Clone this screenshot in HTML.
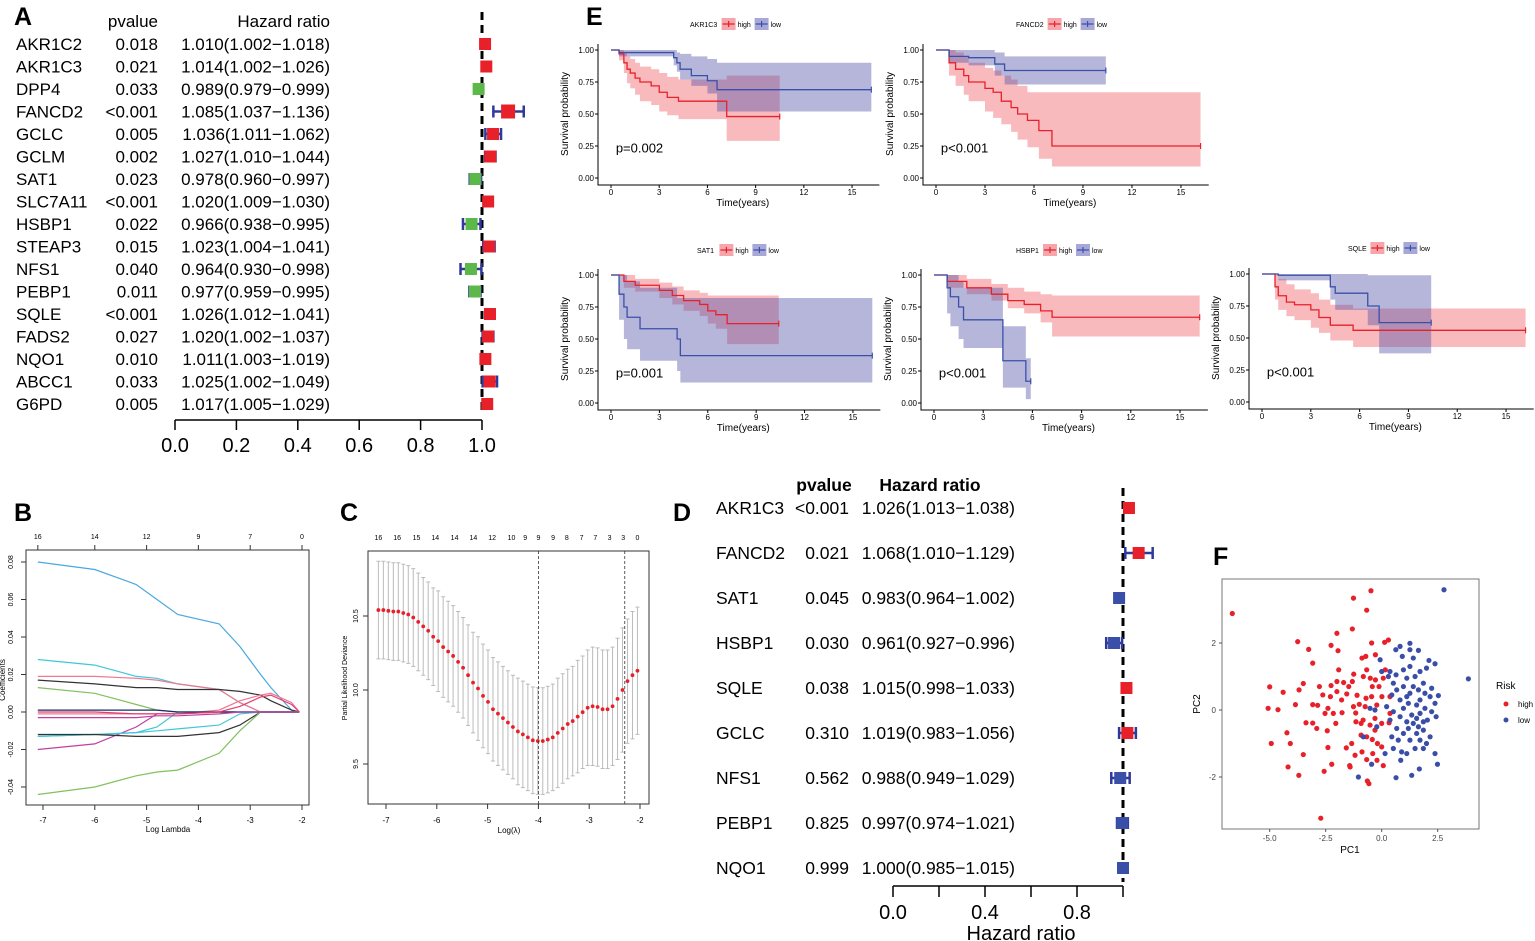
<!DOCTYPE html>
<html><head><meta charset="utf-8">
<style>
html,body{margin:0;padding:0;background:#fff;}
svg{display:block;font-family:"Liberation Sans",Arial,sans-serif;}
</style></head>
<body>
<svg id="fig" width="1535" height="941" viewBox="0 0 1535 941" xmlns="http://www.w3.org/2000/svg">
<g id="gA"></g>
<g id="gB"></g>
<g id="gC"></g>
<g id="gD"></g>
<g id="gE"></g>
<g id="gF"></g>
</svg>
<script>
// ---------- Panel A data ----------
const aGenes=["AKR1C2","AKR1C3","DPP4","FANCD2","GCLC","GCLM","SAT1","SLC7A11","HSBP1","STEAP3","NFS1","PEBP1","SQLE","FADS2","NQO1","ABCC1","G6PD"];
const aPvals=["0.018","0.021","0.033","<0.001","0.005","0.002","0.023","<0.001","0.022","0.015","0.040","0.011","<0.001","0.027","0.010","0.033","0.005"];
const aHR=[1.010,1.014,0.989,1.085,1.036,1.027,0.978,1.020,0.966,1.023,0.964,0.977,1.026,1.020,1.011,1.025,1.017];
const aLow=[1.002,1.002,0.979,1.037,1.011,1.010,0.960,1.009,0.938,1.004,0.930,0.959,1.012,1.002,1.003,1.002,1.005];
const aHigh=[1.018,1.026,0.999,1.136,1.062,1.044,0.997,1.030,0.995,1.041,0.998,0.995,1.041,1.037,1.019,1.049,1.029];
const aTicks=[0,0.2,0.4,0.6,0.8,1.0];
// ---------- Panel D data ----------
const dGenes=["AKR1C3","FANCD2","SAT1","HSBP1","SQLE","GCLC","NFS1","PEBP1","NQO1"];
const dPvals=["<0.001","0.021","0.045","0.030","0.038","0.310","0.562","0.825","0.999"];
const dHR=[1.026,1.068,0.983,0.961,1.015,1.019,0.988,0.997,1.000];
const dLow=[1.013,1.010,0.964,0.927,0.998,0.983,0.949,0.974,0.985];
const dHigh=[1.038,1.129,1.002,0.996,1.033,1.056,1.029,1.021,1.015];
const dTicks=[0,0.2,0.4,0.6,0.8,1.0];
const dTickLabels=["0.0","","0.4","","0.8",""];
// ---------- Panel B data ----------
const bLambda=[-7.1,-6,-5.2,-4.8,-4.4,-3.6,-3.2,-2.8,-2.6,-2.2,-2.05];
const bS1=[0.080,0.076,0.068,0.060,0.052,0.047,0.035,0.020,0.013,0.001,0];
const bS2=[0.028,0.025,0.019,0.018,0.015,0.012,0.005,0,0,0,0];
const bS3=[0.019,0.019,0.018,0.017,0.015,0.012,0.005,0,0,0,0];
const bS4=[0.017,0.015,0.013,0.013,0.012,0.012,0.011,0.009,0.006,0.001,0];
const bS5=[0.013,0.010,0.004,0.001,0,0,0,0,0,0,0];
const bS6=[-0.001,-0.001,-0.001,-0.001,-0.001,0.001,0.006,0.009,0.010,0.005,0];
const bS7=[-0.020,-0.017,-0.008,-0.001,-0.001,0,0,0,0,0,0];
const bS8=[-0.013,-0.012,-0.011,-0.008,0,0,0,0,0,0,0];
const bS9=[-0.013,-0.012,-0.011,-0.010,-0.009,-0.007,-0.001,0,0,0,0];
const bS10=[-0.012,-0.012,-0.013,-0.013,-0.013,-0.011,-0.007,0,0,0,0];
const bS11=[-0.044,-0.040,-0.034,-0.032,-0.031,-0.022,-0.010,0,0,0,0];
const bS12=[0.001,0.001,0.001,0.001,0,0,0,0,0,0,0];
const bS13=[-0.003,-0.003,-0.003,-0.002,-0.002,-0.001,0,0,0,0,0];
const bS14=[0.0,0.0,-0.001,-0.001,-0.001,0,0.003,0.008,0.009,0.004,0];
const bTopLambda=[-7.1,-6,-5,-4,-3,-2];
const bTopLabels=["16","14","12","9","7","0"];
const bXTicks=[-7,-6,-5,-4,-3,-2];
const bYTicks=[0.08,0.06,0.04,0.02,0.00,-0.02,-0.04];
// ---------- Panel C data ----------
const cMean=[10.54,10.54,10.535,10.53,10.53,10.52,10.51,10.49,10.46,10.43,10.40,10.36,10.33,10.29,10.26,10.23,10.19,10.15,10.10,10.05,10.01,9.96,9.92,9.87,9.84,9.81,9.78,9.75,9.72,9.70,9.68,9.66,9.655,9.655,9.665,9.68,9.71,9.74,9.77,9.79,9.82,9.85,9.88,9.89,9.885,9.87,9.87,9.89,9.94,10.00,10.06,10.10,10.13];
const cSE=[0.33,0.33,0.33,0.33,0.33,0.33,0.33,0.33,0.33,0.33,0.33,0.33,0.34,0.34,0.34,0.34,0.34,0.34,0.34,0.34,0.35,0.35,0.35,0.35,0.35,0.35,0.35,0.35,0.36,0.36,0.36,0.36,0.36,0.36,0.36,0.36,0.37,0.37,0.37,0.37,0.38,0.38,0.39,0.40,0.40,0.40,0.40,0.40,0.41,0.42,0.42,0.43,0.43];
const cLambdaStart=-7.15, cLambdaEnd=-2.05;
const cTopLambda=[-7.15,-6.78,-6.4,-6.03,-5.65,-5.28,-4.91,-4.53,-4.26,-4.0,-3.71,-3.44,-3.15,-2.88,-2.6,-2.33,-2.05];
const cTopLabels=["16","16","15","14","14","14","12","10","9","9","9","8","7","7","3","3","0"];
const cXTicks=[-7,-6,-5,-4,-3,-2];
const cYTicks=[9.5,10.0,10.5];
const cVLines=[-4.0,-2.3];
// ---------- Panel E data (Kaplan-Meier) ----------
const eTicksX=[0,3,6,9,12,15];
const eTicksY=[0,0.25,0.5,0.75,1.0];
const km1HighT=[0,0.5,0.8,1.0,1.2,1.5,1.8,2.5,3.0,3.5,4.2,7.2], km1HighS=[1,0.97,0.90,0.85,0.82,0.78,0.75,0.72,0.67,0.63,0.60,0.48];
const km1HighLo=[1,0.92,0.82,0.74,0.70,0.65,0.60,0.57,0.52,0.49,0.46,0.29], km1HighHi=[1,1,0.98,0.95,0.93,0.90,0.87,0.85,0.82,0.79,0.77,0.80], km1HighEnd=10.5;
const km1LowT=[0,0.5,3.9,4.1,4.3,5.0,6.0,6.6], km1LowS=[1,0.98,0.94,0.90,0.85,0.80,0.76,0.69];
const km1LowLo=[1,0.95,0.88,0.83,0.77,0.72,0.66,0.52], km1LowHi=[1,1,1,0.98,0.97,0.95,0.93,0.90], km1LowEnd=16.2;
const km2HighT=[0,0.8,1.2,1.7,2.0,3.0,3.5,4.0,4.6,5.0,5.6,6.3,7.1], km2HighS=[1,0.90,0.85,0.80,0.75,0.70,0.67,0.60,0.55,0.50,0.45,0.37,0.25];
const km2HighLo=[1,0.80,0.72,0.65,0.60,0.52,0.47,0.42,0.36,0.30,0.24,0.15,0.09], km2HighHi=[1,1,0.98,0.95,0.90,0.86,0.84,0.80,0.77,0.72,0.67,0.67,0.67], km2HighEnd=16.2;
const km2LowT=[0,0.8,2.0,3.6,4.2], km2LowS=[1,0.95,0.94,0.89,0.84];
const km2LowLo=[1,0.90,0.88,0.80,0.73], km2LowHi=[1,1,1,0.98,0.95], km2LowEnd=10.4;
const km3HighT=[0,0.8,1.5,3.0,3.8,4.5,5.5,6.0,6.5,7.2], km3HighS=[1,0.95,0.92,0.88,0.84,0.80,0.77,0.72,0.69,0.62];
const km3HighLo=[1,0.90,0.87,0.82,0.77,0.72,0.68,0.62,0.58,0.46], km3HighHi=[1,1,0.97,0.94,0.91,0.88,0.86,0.84,0.84,0.84], km3HighEnd=10.4;
const km3LowT=[0,0.5,0.8,1.0,1.8,4.1,4.3], km3LowS=[1,0.85,0.75,0.67,0.58,0.50,0.37];
const km3LowLo=[1,0.65,0.50,0.42,0.33,0.25,0.16], km3LowHi=[1,1,1,0.95,0.90,0.82,0.82], km3LowEnd=16.2;
const km4HighT=[0,0.8,2.0,3.5,4.5,5.5,6.5,7.2], km4HighS=[1,0.95,0.90,0.85,0.80,0.77,0.72,0.67];
const km4HighLo=[1,0.90,0.85,0.80,0.74,0.70,0.63,0.52], km4HighHi=[1,1,0.97,0.93,0.90,0.87,0.85,0.84], km4HighEnd=16.2;
const km4LowT=[0,0.8,1.0,1.5,1.8,4.2,5.6], km4LowS=[1,0.90,0.83,0.75,0.65,0.33,0.17];
const km4LowLo=[1,0.70,0.60,0.50,0.43,0.12,0.03], km4LowHi=[1,1,1,0.95,0.90,0.60,0.35], km4LowEnd=5.9;
const km5HighT=[0,0.8,1.0,1.5,2.0,3.0,3.5,4.2,5.6], km5HighS=[1,0.90,0.83,0.78,0.76,0.72,0.66,0.60,0.56];
const km5HighLo=[1,0.80,0.72,0.67,0.64,0.58,0.54,0.48,0.43], km5HighHi=[1,1,0.96,0.92,0.88,0.85,0.80,0.76,0.73], km5HighEnd=16.2;
const km5LowT=[0,1.0,4.2,4.5,6.5,7.2], km5LowS=[1,0.99,0.90,0.85,0.75,0.62];
const km5LowLo=[1,0.95,0.80,0.72,0.60,0.38], km5LowHi=[1,1,1,1,0.99,0.99], km5LowEnd=10.4;
const kmGenes=["AKR1C3","FANCD2","SAT1","HSBP1","SQLE"];
const kmPvals=["p=0.002","p<0.001","p=0.001","p<0.001","p<0.001"];
// ---------- Panel F data ----------
const fHighX=[-6.67,-1.26,-0.48,-0.67,-1.31,-2.0,-3.75,-3.26,-2.26,-1.95,-3.08,-0.45,0.13,0.3,-0.88,-0.71,-0.28,-1.92,-1.25,-0.67,-5.0,-4.4,-3.69,-3.5,-5.07,-4.63,-3.85,-3.08,-2.78,-2.63,-2.86,-2.53,-2.26,-2.0,-1.7,-2.0,-2.29,-1.79,-1.47,-1.31,-1.56,-1.1,-0.82,-0.51,-0.42,-0.28,-0.12,0.07,0.16,-1.0,-0.7,-0.45,-0.22,0.01,-2.4,-2.16,-1.77,-1.16,-0.83,-0.52,-1.15,-0.92,-0.3,0,0.33,-3.38,-3.08,-2.9,-2.43,-2.05,-4.23,-4.93,-4.08,-2.4,-1.58,-1.34,-0.92,-0.67,-0.42,-0.19,0,-1.19,-0.67,-0.4,-0.21,-0.88,-3.5,-4.18,-2.23,-2.57,-3.7,-1.43,0.07,-0.64,-0.57,-2.72,-1.41,-0.3,-0.74,-1.26,0.37,0.37];
const fHighY=[2.88,3.34,3.56,2.98,2.42,2.29,2.04,1.81,1.93,1.77,1.4,2.0,2.02,2.09,1.55,1.6,1.65,1.2,1.07,1.2,0.69,0.53,0.6,0.79,0.05,0.01,0.16,0.16,0.7,0.45,0.14,-0.1,0.73,0.85,0.82,0.55,0.4,0.3,0.7,0.85,0.48,0.44,1.0,0.95,0.7,0.9,0.7,0.95,1.2,0.17,0.35,0.4,0.15,0.4,0.05,-0.1,-0.08,-0.09,-0.3,-0.45,-0.35,-0.4,-0.25,-0.4,-0.38,-0.38,-0.39,-0.55,-0.62,-0.4,-0.68,-1.0,-1.0,-1.12,-1.13,-1.0,-0.75,-0.8,-0.88,-1.0,-1.1,-1.35,-1.48,-1.3,-1.5,-1.25,-1.33,-1.7,-1.62,-1.83,-1.95,-1.66,-1.66,-2.12,-2.2,-3.23,-1.7,-0.6,0.1,0.1,0.4,-0.1];
const fLowX=[2.78,3.87,0.63,1.26,1.64,0.92,1.41,2.11,2.38,-0.07,0.37,0.64,0.97,1.26,1.71,2.0,1.12,1.49,1.86,2.23,2.53,2.38,1.93,1.64,1.26,0.97,0.67,0.45,0.82,1.19,1.56,1.93,2.23,0.22,0.52,0.97,1.34,1.71,2.04,1.12,1.41,1.64,1.86,2.16,0.67,0.45,0.97,1.26,1.71,1.86,2.38,2.49,1.68,1.34,0.64,0.85,0.89,0.52,0.15,-0.45,-1.04,-0.3,-0.52,0.52,0.3,0,1.26,0.82,2.16,1.71,1.19,1.56,2.0,0.74,1.12,1.49,0.37,1.56,0.82,-0.82,-0.22,1.86,2.43,1.12,1.41];
const fLowY=[3.59,0.93,1.8,1.99,1.78,1.6,1.55,1.48,1.38,1.5,1.15,1.05,1.2,1.3,1.15,1.25,0.95,1.0,0.8,0.65,0.43,0.2,0.5,0.6,0.5,0.7,0.6,0.45,0.3,0.2,0.15,0.05,-0.05,0.1,-0.05,0.05,-0.15,-0.1,-0.3,-0.35,-0.4,-0.5,-0.6,-0.8,-0.55,-0.8,-0.7,-0.9,-0.9,-1.15,-1.3,-1.62,-1.76,-1.95,-2.02,-1.5,-1.25,-1.15,-1.3,-1.62,-2.0,0,0.05,0.8,1.0,1.15,1.8,1.9,0.4,0.3,-0.55,-0.7,-1.0,-0.9,-1.3,-1.15,-0.3,-0.25,-0.2,-0.8,-0.5,-0.35,-0.2,0.4,0.7];
const fXTicks=[-5.0,-2.5,0.0,2.5];
const fXTickLabels=["-5.0","-2.5","0.0","2.5"];
const fYTicks=[-2,0,2];

const NS="http://www.w3.org/2000/svg";
function mk(parent,tag,attrs,text){const e=document.createElementNS(NS,tag);for(const k in attrs)e.setAttribute(k,attrs[k]);if(text!==undefined)e.textContent=text;parent.appendChild(e);return e;}
const RED="#e8202a",GREEN="#5cb848",BLUE="#2e3a9a",DBLUE="#3a50a8";

// ===== Panel A =====
(function(){
const g=document.getElementById('gA');
const t=mk(g,'text',{x:14,y:25,'font-size':25,'font-weight':'bold'},"A");


const h1=mk(g,'text',{x:158,y:27,'font-size':17,'text-anchor':'end'},"pvalue");


const h2=mk(g,'text',{x:330,y:27,'font-size':17,'text-anchor':'end'},"Hazard ratio");


const xs=v=>175+(v-0)*307;
const ys=i=>44+i*22.5;
const dl=mk(g,'line',{x1:xs(1),y1:12,x2:xs(1),y2:415,stroke:'#000','stroke-width':3,'stroke-dasharray':'8,5'});


aGenes.forEach((gn,i)=>{
 const y=ys(i);
 const a=mk(g,'text',{x:16,y:y+6,'font-size':17},gn);
 
 
 const b=mk(g,'text',{x:158,y:y+6,'font-size':17,'text-anchor':'end'},aPvals[i]);
 
 
 const c=mk(g,'text',{x:330,y:y+6,'font-size':17,'text-anchor':'end'},aHR[i].toFixed(3)+"("+aLow[i].toFixed(3)+"\u2212"+aHigh[i].toFixed(3)+")");
 
 
 const ci=mk(g,'path',{d:`M${xs(aLow[i])},${y}H${xs(aHigh[i])}M${xs(aLow[i])},${y-6}V${y+6}M${xs(aHigh[i])},${y-6}V${y+6}`,stroke:BLUE,'stroke-width':2.5,fill:'none'});
 
 
 const sz=i===3?14:12;
 const bx=mk(g,'rect',{x:xs(aHR[i])-sz/2,y:y-sz/2,width:sz,height:sz,fill:aHR[i]>=1?RED:GREEN});
 
 
});
const ax=mk(g,'line',{x1:xs(0),y1:420,x2:xs(1),y2:420,stroke:'#000','stroke-width':1.5});


aTicks.forEach(v=>{
 const tk=mk(g,'line',{x1:xs(v),y1:420,x2:xs(v),y2:430,stroke:'#000','stroke-width':1.5});
 
 
 const tl=mk(g,'text',{x:xs(v),y:452,'font-size':20,'text-anchor':'middle'},v.toFixed(1));
 
 
});
})();

// ===== Panel D =====
(function(){
const g=document.getElementById('gD');
const t=mk(g,'text',{x:673,y:521,'font-size':25,'font-weight':'bold'},"D");


const h1=mk(g,'text',{x:824,y:491,'font-size':17.5,'font-weight':'bold','text-anchor':'middle'},"pvalue");


const h2=mk(g,'text',{x:930,y:491,'font-size':17.5,'font-weight':'bold','text-anchor':'middle'},"Hazard ratio");


const xs=v=>893+v*230;
const ys=i=>508+i*45;
const dl=mk(g,'line',{x1:xs(1),y1:488,x2:xs(1),y2:882,stroke:'#000','stroke-width':3,'stroke-dasharray':'8,5'});


dGenes.forEach((gn,i)=>{
 const y=ys(i);
 const a=mk(g,'text',{x:716,y:y+6,'font-size':17.5},gn);
 
 
 const b=mk(g,'text',{x:849,y:y+6,'font-size':17.5,'text-anchor':'end'},dPvals[i]);
 
 
 const c=mk(g,'text',{x:1015,y:y+6,'font-size':17.5,'text-anchor':'end'},dHR[i].toFixed(3)+"("+dLow[i].toFixed(3)+"\u2212"+dHigh[i].toFixed(3)+")");
 
 
 const ci=mk(g,'path',{d:`M${xs(dLow[i])},${y}H${xs(dHigh[i])}M${xs(dLow[i])},${y-6}V${y+6}M${xs(dHigh[i])},${y-6}V${y+6}`,stroke:BLUE,'stroke-width':2.5,fill:'none'});
 
 
 const sz=12;
 const bx=mk(g,'rect',{x:xs(dHR[i])-sz/2,y:y-sz/2,width:sz,height:sz,fill:dHR[i]>1?RED:DBLUE});
 
 
});
const ax=mk(g,'line',{x1:xs(0),y1:886,x2:xs(1),y2:886,stroke:'#000','stroke-width':1.5});


dTicks.forEach((v,i)=>{
 const tk=mk(g,'line',{x1:xs(v),y1:886,x2:xs(v),y2:897,stroke:'#000','stroke-width':1.5});
 
 
 const tl=mk(g,'text',{x:xs(v),y:919,'font-size':20,'text-anchor':'middle'},dTickLabels[i]);
 
 
});
const at=mk(g,'text',{x:1021,y:940,'font-size':20,'text-anchor':'middle'},"Hazard ratio");


})();

// ===== Panel B =====
(function(){
const g=document.getElementById('gB');
const t=mk(g,'text',{x:14,y:521,'font-size':25,'font-weight':'bold'},"B");


const xs=v=>43+(v+7)*51.8;
const ys=v=>712-v*1875;
const box=mk(g,'rect',{x:26,y:550,width:283,height:255,fill:'none',stroke:'#333','stroke-width':1});


const series=[[bS1,'#4aa8e0'],[bS2,'#40c8d8'],[bS3,'#f07890'],[bS4,'#333'],[bS5,'#80c060'],[bS6,'#f07890'],[bS7,'#c040a0'],[bS8,'#40c8d8'],[bS9,'#40c8d8'],[bS10,'#333'],[bS11,'#80c060'],[bS12,'#1a2a6a'],[bS13,'#c040a0'],[bS14,'#e04070']];
series.forEach(([arr,col])=>{
 let d="";
 arr.forEach((v,i)=>{d+=(i?"L":"M")+xs(bLambda[i]).toFixed(1)+","+ys(v).toFixed(1);});
 const p=mk(g,'path',{d:d,stroke:col,'stroke-width':1.2,fill:'none'});
 
 
});
bXTicks.forEach(v=>{
 const tk=mk(g,'line',{x1:xs(v),y1:805,x2:xs(v),y2:810,stroke:'#333'});
 
 
 const tl=mk(g,'text',{x:xs(v),y:823,'font-size':8,'text-anchor':'middle'},String(v));
 
 
});
bTopLambda.forEach((v,i)=>{
 const tk=mk(g,'line',{x1:xs(v),y1:545,x2:xs(v),y2:550,stroke:'#333'});
 
 
 const tl=mk(g,'text',{x:xs(v),y:539,'font-size':7,'text-anchor':'middle'},bTopLabels[i]);
 
 
});
bYTicks.forEach(v=>{
 const tk=mk(g,'line',{x1:21,y1:ys(v),x2:26,y2:ys(v),stroke:'#333'});
 
 
 const tl=mk(g,'text',{x:0,y:0,'font-size':7,'text-anchor':'middle',transform:`translate(13,${ys(v)}) rotate(-90)`},v.toFixed(2));
 
 
});
const xt=mk(g,'text',{x:168,y:832,'font-size':8,'text-anchor':'middle'},"Log Lambda");


const yt=mk(g,'text',{x:0,y:0,'font-size':8,'text-anchor':'middle',transform:'translate(5,680) rotate(-90)'},"Coefficients");


})();

// ===== Panel C =====
(function(){
const g=document.getElementById('gC');
const t=mk(g,'text',{x:340,y:521,'font-size':25,'font-weight':'bold'},"C");


const xs=v=>386+(v+7)*50.8;
const ys=v=>690-(v-10)*148;
const box=mk(g,'rect',{x:368,y:551,width:281,height:253,fill:'none',stroke:'#333','stroke-width':1});


const n=cMean.length;
const step=(cLambdaEnd-cLambdaStart)/(n-1);
cMean.forEach((m,i)=>{
 const lx=xs(cLambdaStart+i*step);
 const hi=ys(m+cSE[i]),lo=ys(m-cSE[i]);
 const eb=mk(g,'path',{d:`M${lx},${hi}V${lo}M${lx-2},${hi}H${lx+2}M${lx-2},${lo}H${lx+2}`,stroke:'#bbb','stroke-width':1,fill:'none'});
 
 
});
cMean.forEach((m,i)=>{
 const c=mk(g,'circle',{cx:xs(cLambdaStart+i*step),cy:ys(m),r:1.9,fill:'#e8202a'});
 
 
});
cVLines.forEach(v=>{
 const l=mk(g,'line',{x1:xs(v),y1:551,x2:xs(v),y2:804,stroke:'#333','stroke-width':0.8,'stroke-dasharray':'3,2'});
 
 
});
cXTicks.forEach(v=>{
 const tk=mk(g,'line',{x1:xs(v),y1:804,x2:xs(v),y2:809,stroke:'#333'});
 
 
 const tl=mk(g,'text',{x:xs(v),y:823,'font-size':8,'text-anchor':'middle'},String(v));
 
 
});
cTopLambda.forEach((v,i)=>{
 const tl=mk(g,'text',{x:xs(v),y:540,'font-size':7,'text-anchor':'middle'},cTopLabels[i]);
 
 
});
cYTicks.forEach(v=>{
 const tk=mk(g,'line',{x1:363,y1:ys(v),x2:368,y2:ys(v),stroke:'#333'});
 
 
 const tl=mk(g,'text',{x:0,y:0,'font-size':7,'text-anchor':'middle',transform:`translate(358,${ys(v)}) rotate(-90)`},v.toFixed(1));
 
 
});
const xt=mk(g,'text',{x:509,y:833,'font-size':8,'text-anchor':'middle'},"Log(\u03bb)");


const yt=mk(g,'text',{x:0,y:0,'font-size':7,'text-anchor':'middle',transform:'translate(347,678) rotate(-90)'},"Partial Likelihood Deviance");


})();

// ===== Panel E =====
(function(){
const g=document.getElementById('gE');
const t=mk(g,'text',{x:586,y:25,'font-size':25,'font-weight':'bold'},"E");


const plots=[
 {x0:611,u:16.07,y1:50,y0:178,hi:[km1HighT,km1HighS,km1HighLo,km1HighHi,km1HighEnd],lo:[km1LowT,km1LowS,km1LowLo,km1LowHi,km1LowEnd],lgx:690,lgy:24},
 {x0:936,u:16.33,y1:50,y0:178,hi:[km2HighT,km2HighS,km2HighLo,km2HighHi,km2HighEnd],lo:[km2LowT,km2LowS,km2LowLo,km2LowHi,km2LowEnd],lgx:1016,lgy:24},
 {x0:611,u:16.13,y1:275,y0:403,hi:[km3HighT,km3HighS,km3HighLo,km3HighHi,km3HighEnd],lo:[km3LowT,km3LowS,km3LowLo,km3LowHi,km3LowEnd],lgx:697,lgy:250},
 {x0:934,u:16.4,y1:275,y0:403,hi:[km4HighT,km4HighS,km4HighLo,km4HighHi,km4HighEnd],lo:[km4LowT,km4LowS,km4LowLo,km4LowHi,km4LowEnd],lgx:1016,lgy:250},
 {x0:1262,u:16.27,y1:274,y0:402,hi:[km5HighT,km5HighS,km5HighLo,km5HighHi,km5HighEnd],lo:[km5LowT,km5LowS,km5LowLo,km5LowHi,km5LowEnd],lgx:1348,lgy:248}
];
plots.forEach((p,k)=>{
 const pg=mk(g,'g',{});
 
 
 const xs=v=>p.x0+v*p.u;
 const ys=v=>p.y0-v*(p.y0-p.y1);
 const stepPath=(T,S,end)=>{let d=`M${xs(T[0])},${ys(S[0])}`;for(let i=1;i<T.length;i++){d+=`H${xs(T[i])}V${ys(S[i])}`;}d+=`H${xs(end)}`;return d;};
 const band=(T,L,H,end)=>{let up=`M${xs(T[0])},${ys(H[0])}`;for(let i=1;i<T.length;i++)up+=`H${xs(T[i])}V${ys(H[i])}`;up+=`H${xs(end)}V${ys(L[L.length-1])}`;for(let i=T.length-1;i>=1;i--)up+=`H${xs(T[i])}V${ys(L[i-1])}`;up+=`H${xs(T[0])}Z`;return up;};
 const groups=[[p.hi,'rgba(240,90,100,0.42)',RED,'high'],[p.lo,'rgba(80,80,170,0.42)',DBLUE,'low']];
 groups.forEach(([d,fill,col,nm])=>{
  const b=mk(pg,'path',{d:band(d[0],d[2],d[3],d[4]),fill:fill,stroke:'none'});
  
  
 });
 groups.forEach(([d,fill,col,nm])=>{
  const l=mk(pg,'path',{d:stepPath(d[0],d[1],d[4]),fill:'none',stroke:col,'stroke-width':1.3});
  
  
  const last=d[1][d[1].length-1];
  const cm=mk(pg,'path',{d:`M${xs(d[4])},${ys(last)-3}V${ys(last)+3}`,stroke:col,'stroke-width':1.2});
  
  
 });
 const axl=p.x0-13;
 const ax=mk(pg,'path',{d:`M${axl},${p.y1-6}V${p.y0+7}H${xs(16.7)}`,fill:'none',stroke:'#000','stroke-width':1});
 
 
 eTicksY.forEach(v=>{
  const tk=mk(pg,'line',{x1:axl-3,y1:ys(v),x2:axl,y2:ys(v),stroke:'#000'});
  
  
  const tl=mk(pg,'text',{x:axl-4,y:ys(v)+3,'font-size':8,'text-anchor':'end'},v.toFixed(2));
  
  
 });
 eTicksX.forEach(v=>{
  const tk=mk(pg,'line',{x1:xs(v),y1:p.y0+7,x2:xs(v),y2:p.y0+10,stroke:'#000'});
  
  
  const tl=mk(pg,'text',{x:xs(v),y:p.y0+17,'font-size':8,'text-anchor':'middle'},String(v));
  
  
 });
 const xt=mk(pg,'text',{x:xs(8.2),y:p.y0+28,'font-size':10,'text-anchor':'middle'},"Time(years)");
 
 
 const yt=mk(pg,'text',{x:0,y:0,'font-size':10,'text-anchor':'middle',transform:`translate(${axl-30},${(p.y0+p.y1)/2}) rotate(-90)`},"Survival probability");
 
 
 const pv=mk(pg,'text',{x:xs(0.3),y:ys(0.2),'font-size':13},kmPvals[k]);
 
 
 // legend
 const lg=mk(pg,'g',{});
 
 
 mk(lg,'text',{x:p.lgx,y:p.lgy+3,'font-size':7},kmGenes[k]);
 const bx0=p.lgx+kmGenes[k].length*4.6+4;
 mk(lg,'rect',{x:bx0,y:p.lgy-6,width:14,height:12,fill:'#f4a6aa'});
 mk(lg,'path',{d:`M${bx0+1},${p.lgy}H${bx0+13}M${bx0+7},${p.lgy-3}V${p.lgy+3}`,stroke:RED,'stroke-width':1.2});
 mk(lg,'text',{x:bx0+16,y:p.lgy+3,'font-size':7},"high");
 mk(lg,'rect',{x:bx0+33,y:p.lgy-6,width:14,height:12,fill:'#a8a8d8'});
 mk(lg,'path',{d:`M${bx0+34},${p.lgy}H${bx0+46}M${bx0+40},${p.lgy-3}V${p.lgy+3}`,stroke:DBLUE,'stroke-width':1.2});
 mk(lg,'text',{x:bx0+49,y:p.lgy+3,'font-size':7},"low");
});
})();

// ===== Panel F =====
(function(){
const g=document.getElementById('gF');
const t=mk(g,'text',{x:1213,y:565,'font-size':25,'font-weight':'bold'},"F");


const xs=v=>1381.7+v*22.4;
const ys=v=>710-v*33.5;
const box=mk(g,'rect',{x:1222,y:579,width:257,height:250,fill:'#fff',stroke:'#777','stroke-width':1});


fHighX.forEach((x,i)=>{
 const c=mk(g,'circle',{cx:xs(x),cy:ys(fHighY[i]),r:2.6,fill:'#e8202a'});
 
 
});
fLowX.forEach((x,i)=>{
 const c=mk(g,'circle',{cx:xs(x),cy:ys(fLowY[i]),r:2.6,fill:'#3a4ea8'});
 
 
});
fXTicks.forEach((v,i)=>{
 const tk=mk(g,'line',{x1:xs(v),y1:829,x2:xs(v),y2:832,stroke:'#555'});
 
 
 const tl=mk(g,'text',{x:xs(v),y:841,'font-size':8,'text-anchor':'middle',fill:'#444'},fXTickLabels[i]);
 
 
});
fYTicks.forEach(v=>{
 const tk=mk(g,'line',{x1:1219,y1:ys(v),x2:1222,y2:ys(v),stroke:'#555'});
 
 
 const tl=mk(g,'text',{x:1216,y:ys(v)+3,'font-size':8,'text-anchor':'end',fill:'#444'},String(v));
 
 
});
const xt=mk(g,'text',{x:1350,y:853,'font-size':10,'text-anchor':'middle'},"PC1");


const yt=mk(g,'text',{x:0,y:0,'font-size':10,'text-anchor':'middle',transform:'translate(1200,704) rotate(-90)'},"PC2");


const lg=mk(g,'g',{});


mk(lg,'text',{x:1496,y:689,'font-size':10},"Risk");
mk(lg,'circle',{cx:1506,cy:704,r:2.5,fill:'#e8202a'});
mk(lg,'text',{x:1518,y:707,'font-size':8},"high");
mk(lg,'circle',{cx:1506,cy:720,r:2.5,fill:'#3a4ea8'});
mk(lg,'text',{x:1518,y:723,'font-size':8},"low");
})();
</script>
</body></html>
